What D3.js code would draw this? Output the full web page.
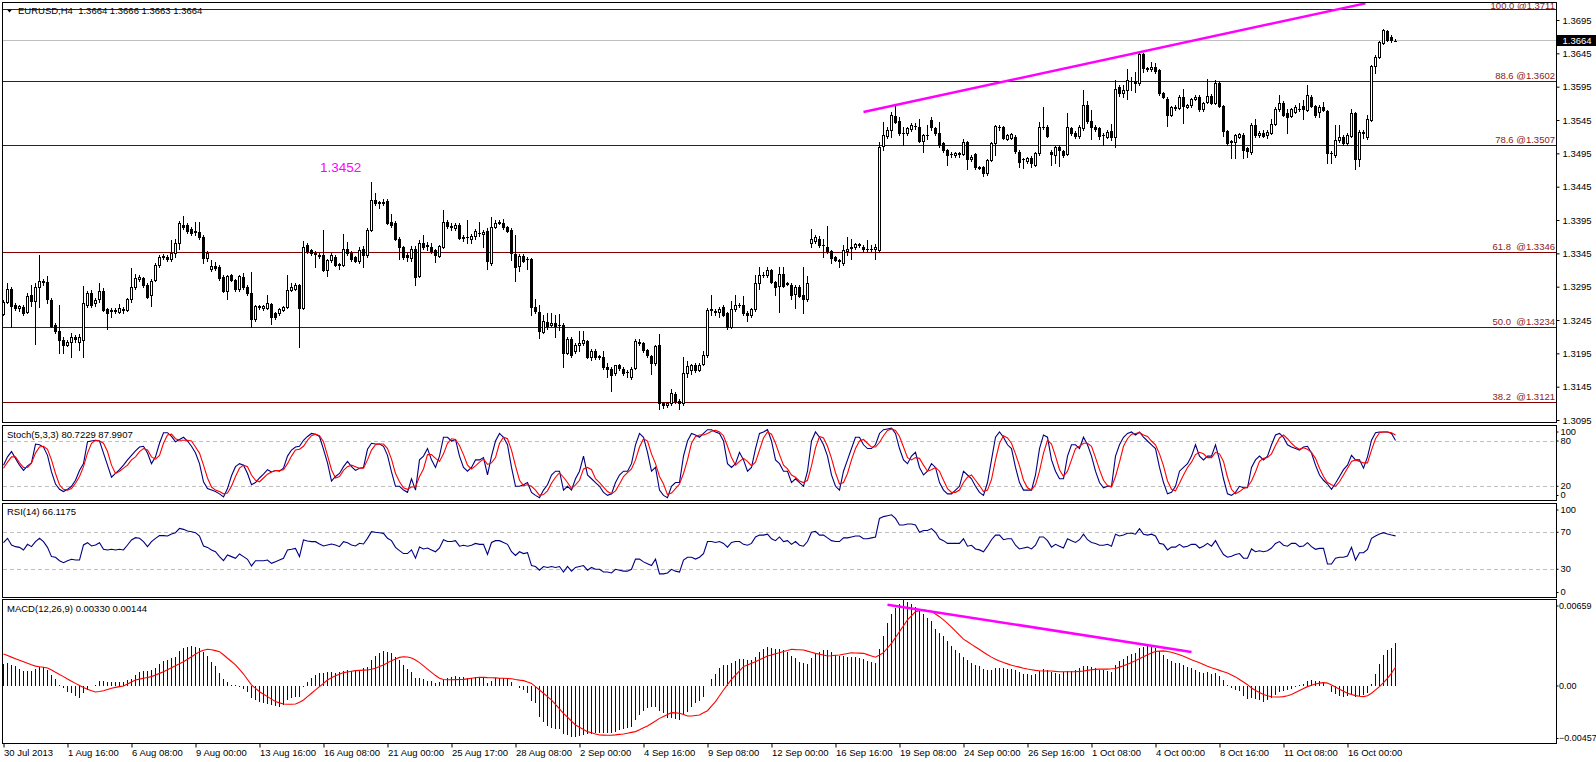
<!DOCTYPE html>
<html><head><meta charset="utf-8"><title>EURUSD H4</title>
<script src="https://cdn.jsdelivr.net/npm/d3@7/dist/d3.min.js"></script>
<style>
html,body{margin:0;padding:0;background:#fff;}
svg{display:block;}
text{font-family:"Liberation Sans",Arial,sans-serif;}
</style></head><body>
<svg id="chart" width="1596" height="762"></svg>
<script>
// ---------------- DATA ----------------
const timeLabels = ["30 Jul 2013","1 Aug 16:00","6 Aug 08:00","9 Aug 00:00","13 Aug 16:00","16 Aug 08:00","21 Aug 00:00","25 Aug 17:00","28 Aug 08:00","2 Sep 00:00","4 Sep 16:00","9 Sep 08:00","12 Sep 00:00","16 Sep 16:00","19 Sep 08:00","24 Sep 00:00","26 Sep 16:00","1 Oct 08:00","4 Oct 00:00","8 Oct 16:00","11 Oct 08:00","16 Oct 00:00"];
const labelBars = [0,16,32,48,64,80,96,112,128,144,160,176,192,208,224,240,256,272,288,304,320,336];
const priceTicks = [1.3695,1.3645,1.3595,1.3545,1.3495,1.3445,1.3395,1.3345,1.3295,1.3245,1.3195,1.3145,1.3095];
const fibPrices = [1.3711,1.3602,1.3507,1.3346,1.3234,1.3121];
const fibLabels = ["100.0 @1.3711","88.6 @1.3602","78.6 @1.3507","61.8  @1.3346","50.0  @1.3234","38.2  @1.3121"];
const lastPrice = 1.3664;
const headerText = "EURUSD,H4  1.3664 1.3666 1.3663 1.3664";
const stochLabel = "Stoch(5,3,3) 80.7229 87.9907";
const rsiLabel = "RSI(14) 66.1175";
const macdLabel = "MACD(12,26,9) 0.00330 0.00144";
const stochLevels = [80,20];
const rsiLevels = [70,30];
const stochTicks = [100,80,20,0];
const rsiTicks = [100,70,30,0];
const macdTicks = [0.00659,0,-0.00457];
const priceTrend = [{bar:215,price:1.3557},{bar:340.5,price:1.3720}];
const macdTrend = [{bar:221,value:0.00625},{bar:297,value:0.00262}];
const noteText = "1.3452", noteBar = 79.1, notePrice = 1.3467;

const open = [1.3254,1.3272,1.3291,1.3267,1.3263,1.3265,1.3257,1.3282,1.3274,1.3294,
1.3302,1.3302,1.3275,1.3237,1.3229,1.3215,1.3207,1.3212,1.3219,1.3212,
1.3215,1.3267,1.3286,1.3270,1.3276,1.3289,1.3261,1.3258,1.3258,1.3257,
1.3261,1.3260,1.3276,1.3294,1.3307,1.3308,1.3297,1.3282,1.3305,1.3327,
1.3339,1.3340,1.3337,1.3345,1.3360,1.3388,1.3387,1.3381,1.3377,1.3377,
1.3369,1.3338,1.3321,1.3326,1.3324,1.3310,1.3289,1.3312,1.3305,1.3291,
1.3310,1.3295,1.3286,1.3246,1.3266,1.3263,1.3263,1.3269,1.3255,1.3256,
1.3260,1.3265,1.3290,1.3292,1.3297,1.3263,1.3357,1.3350,1.3346,1.3343,
1.3342,1.3320,1.3335,1.3340,1.3329,1.3328,1.3352,1.3346,1.3339,1.3333,
1.3351,1.3342,1.3380,1.3425,1.3422,1.3421,1.3424,1.3392,1.3390,1.3367,
1.3354,1.3343,1.3338,1.3352,1.3311,1.3360,1.3356,1.3355,1.3350,1.3341,
1.3355,1.3392,1.3386,1.3383,1.3387,1.3368,1.3369,1.3367,1.3371,1.3376,
1.3374,1.3378,1.3330,1.3385,1.3391,1.3390,1.3384,1.3380,1.3344,1.3326,
1.3341,1.3336,1.3337,1.3264,1.3257,1.3227,1.3242,1.3237,1.3240,1.3237,
1.3238,1.3196,1.3217,1.3198,1.3207,1.3210,1.3214,1.3190,1.3199,1.3191,
1.3189,1.3175,1.3172,1.3165,1.3177,1.3172,1.3167,1.3159,1.3173,1.3212,
1.3210,1.3200,1.3191,1.3180,1.3207,1.3120,1.3118,1.3120,1.3134,1.3123,
1.3120,1.3166,1.3170,1.3177,1.3170,1.3179,1.3192,1.3261,1.3257,1.3257,
1.3264,1.3255,1.3235,1.3261,1.3267,1.3267,1.3256,1.3252,1.3261,1.3300,
1.3313,1.3312,1.3320,1.3302,1.3296,1.3314,1.3299,1.3298,1.3284,1.3295,
1.3282,1.3276,1.3360,1.3364,1.3367,1.3358,1.3355,1.3348,1.3339,1.3335,
1.3331,1.3349,1.3353,1.3354,1.3359,1.3355,1.3351,1.3352,1.3351,1.3350,
1.3506,1.3521,1.3530,1.3551,1.3543,1.3525,1.3525,1.3532,1.3536,1.3535,
1.3514,1.3522,1.3545,1.3533,1.3525,1.3510,1.3500,1.3494,1.3493,1.3496,
1.3494,1.3512,1.3486,1.3494,1.3474,1.3474,1.3465,1.3485,1.3510,1.3535,
1.3534,1.3517,1.3518,1.3520,1.3497,1.3486,1.3483,1.3488,1.3478,1.3495,
1.3535,1.3535,1.3497,1.3493,1.3505,1.3498,1.3494,1.3533,1.3526,1.3521,
1.3533,1.3568,1.3543,1.3535,1.3533,1.3522,1.3520,1.3528,1.3519,1.3595,
1.3586,1.3590,1.3604,1.3604,1.3600,1.3644,1.3623,1.3622,1.3624,1.3620,
1.3585,1.3577,1.3553,1.3563,1.3563,1.3579,1.3565,1.3567,1.3576,1.3579,
1.3561,1.3572,1.3581,1.3571,1.3601,1.3566,1.3528,1.3512,1.3512,1.3520,
1.3522,1.3503,1.3497,1.3537,1.3522,1.3526,1.3522,1.3526,1.3539,1.3561,
1.3571,1.3556,1.3551,1.3557,1.3562,1.3566,1.3560,1.3580,1.3566,1.3557,
1.3565,1.3558,1.3495,1.3493,1.3515,1.3520,1.3510,1.3521,1.3555,1.3487,
1.3525,1.3520,1.3545,1.3626,1.3640,1.3661,1.3678,1.3670,1.3664];

const high = [1.3275,1.3300,1.3295,1.3270,1.3268,1.3268,1.3285,1.3297,1.3300,1.3343,
1.3307,1.3311,1.3278,1.3240,1.3267,1.3220,1.3215,1.3225,1.3222,1.3224,
1.3296,1.3289,1.3290,1.3278,1.3300,1.3293,1.3263,1.3263,1.3263,1.3269,
1.3265,1.3278,1.3323,1.3314,1.3312,1.3310,1.3300,1.3306,1.3330,1.3342,
1.3344,1.3343,1.3365,1.3366,1.3394,1.3401,1.3390,1.3384,1.3392,1.3392,
1.3372,1.3349,1.3335,1.3332,1.3327,1.3312,1.3313,1.3314,1.3307,1.3313,
1.3316,1.3297,1.3317,1.3268,1.3268,1.3268,1.3282,1.3271,1.3257,1.3263,
1.3266,1.3312,1.3300,1.3300,1.3299,1.3363,1.3360,1.3352,1.3348,1.3346,
1.3380,1.3337,1.3346,1.3343,1.3331,1.3374,1.3362,1.3348,1.3341,1.3354,
1.3356,1.3383,1.3452,1.3435,1.3424,1.3426,1.3426,1.3404,1.3393,1.3370,
1.3356,1.3345,1.3356,1.3356,1.3365,1.3373,1.3362,1.3360,1.3352,1.3358,
1.3410,1.3395,1.3391,1.3390,1.3390,1.3373,1.3395,1.3374,1.3381,1.3392,
1.3380,1.3383,1.3400,1.3395,1.3395,1.3397,1.3386,1.3383,1.3372,1.3344,
1.3344,1.3340,1.3338,1.3276,1.3268,1.3253,1.3255,1.3255,1.3252,1.3254,
1.3241,1.3219,1.3220,1.3211,1.3228,1.3228,1.3215,1.3201,1.3201,1.3193,
1.3198,1.3180,1.3175,1.3178,1.3179,1.3175,1.3170,1.3175,1.3217,1.3217,
1.3212,1.3202,1.3193,1.3208,1.3224,1.3122,1.3122,1.3141,1.3137,1.3126,
1.3190,1.3184,1.3179,1.3180,1.3181,1.3198,1.3263,1.3282,1.3262,1.3265,
1.3268,1.3257,1.3274,1.3282,1.3270,1.3281,1.3258,1.3263,1.3312,1.3324,
1.3317,1.3324,1.3322,1.3304,1.3324,1.3324,1.3302,1.3300,1.3297,1.3297,
1.3324,1.3311,1.3382,1.3372,1.3371,1.3367,1.3386,1.3350,1.3341,1.3337,
1.3357,1.3369,1.3367,1.3361,1.3361,1.3357,1.3365,1.3357,1.3359,1.3512,
1.3542,1.3535,1.3557,1.3568,1.3550,1.3534,1.3534,1.3540,1.3541,1.3547,
1.3524,1.3537,1.3549,1.3535,1.3542,1.3512,1.3502,1.3497,1.3497,1.3497,
1.3517,1.3514,1.3492,1.3496,1.3476,1.3476,1.3487,1.3512,1.3537,1.3537,
1.3536,1.3524,1.3526,1.3522,1.3500,1.3488,1.3490,1.3491,1.3497,1.3542,
1.3565,1.3537,1.3500,1.3506,1.3507,1.3500,1.3555,1.3535,1.3528,1.3537,
1.3590,1.3573,1.3560,1.3538,1.3535,1.3525,1.3530,1.3539,1.3605,1.3597,
1.3597,1.3622,1.3610,1.3617,1.3647,1.3645,1.3625,1.3632,1.3630,1.3622,
1.3587,1.3580,1.3566,1.3567,1.3582,1.3591,1.3569,1.3578,1.3582,1.3582,
1.3572,1.3607,1.3584,1.3605,1.3604,1.3568,1.3530,1.3515,1.3524,1.3526,
1.3525,1.3505,1.3540,1.3547,1.3528,1.3530,1.3530,1.3547,1.3565,1.3582,
1.3573,1.3562,1.3563,1.3567,1.3570,1.3575,1.3597,1.3583,1.3568,1.3567,
1.3572,1.3560,1.3498,1.3537,1.3537,1.3522,1.3525,1.3562,1.3557,1.3530,
1.3530,1.3552,1.3628,1.3642,1.3664,1.3681,1.3680,1.3672,1.3666];

const low = [1.3252,1.3270,1.3235,1.3260,1.3258,1.3252,1.3255,1.3266,1.3209,1.3265,
1.3298,1.3270,1.3234,1.3225,1.3196,1.3196,1.3206,1.3190,1.3212,1.3200,
1.3189,1.3265,1.3265,1.3266,1.3272,1.3258,1.3232,1.3249,1.3255,1.3255,
1.3256,1.3258,1.3272,1.3292,1.3303,1.3294,1.3278,1.3266,1.3303,1.3325,
1.3337,1.3334,1.3333,1.3340,1.3352,1.3382,1.3376,1.3372,1.3373,1.3367,
1.3331,1.3334,1.3318,1.3320,1.3305,1.3287,1.3277,1.3303,1.3289,1.3289,
1.3292,1.3283,1.3235,1.3244,1.3262,1.3260,1.3261,1.3239,1.3246,1.3252,
1.3258,1.3263,1.3288,1.3290,1.3205,1.3261,1.3346,1.3342,1.3324,1.3338,
1.3318,1.3311,1.3332,1.3326,1.3322,1.3326,1.3343,1.3334,1.3332,1.3330,
1.3325,1.3340,1.3378,1.3418,1.3413,1.3418,1.3389,1.3385,1.3365,1.3337,
1.3337,1.3333,1.3334,1.3297,1.3309,1.3351,1.3350,1.3346,1.3332,1.3339,
1.3353,1.3383,1.3380,1.3380,1.3366,1.3364,1.3360,1.3361,1.3366,1.3371,
1.3355,1.3322,1.3328,1.3383,1.3389,1.3382,1.3377,1.3335,1.3304,1.3319,
1.3332,1.3322,1.3252,1.3255,1.3218,1.3225,1.3232,1.3236,1.3220,1.3230,
1.3174,1.3194,1.3190,1.3195,1.3198,1.3208,1.3188,1.3185,1.3187,1.3186,
1.3172,1.3160,1.3138,1.3162,1.3170,1.3163,1.3160,1.3157,1.3171,1.3207,
1.3197,1.3190,1.3164,1.3177,1.3112,1.3113,1.3115,1.3117,1.3120,1.3111,
1.3118,1.3160,1.3164,1.3167,1.3168,1.3177,1.3190,1.3252,1.3252,1.3250,
1.3251,1.3231,1.3233,1.3259,1.3265,1.3253,1.3243,1.3249,1.3259,1.3291,
1.3310,1.3310,1.3300,1.3282,1.3257,1.3294,1.3297,1.3276,1.3263,1.3279,
1.3255,1.3274,1.3355,1.3360,1.3355,1.3340,1.3345,1.3330,1.3333,1.3325,
1.3327,1.3342,1.3337,1.3351,1.3355,1.3349,1.3349,1.3348,1.3337,1.3347,
1.3500,1.3518,1.3520,1.3540,1.3522,1.3507,1.3522,1.3529,1.3531,1.3512,
1.3497,1.3517,1.3530,1.3522,1.3505,1.3497,1.3477,1.3490,1.3490,1.3489,
1.3492,1.3472,1.3484,1.3472,1.3471,1.3461,1.3463,1.3483,1.3492,1.3530,
1.3516,1.3515,1.3516,1.3495,1.3475,1.3473,1.3480,1.3475,1.3476,1.3493,
1.3532,1.3519,1.3477,1.3480,1.3476,1.3490,1.3492,1.3523,1.3518,1.3518,
1.3530,1.3540,1.3516,1.3528,1.3516,1.3507,1.3518,1.3515,1.3505,1.3581,
1.3580,1.3577,1.3590,1.3587,1.3598,1.3617,1.3618,1.3619,1.3616,1.3583,
1.3578,1.3536,1.3551,1.3560,1.3561,1.3541,1.3563,1.3564,1.3575,1.3559,
1.3558,1.3570,1.3569,1.3569,1.3564,1.3521,1.3508,1.3488,1.3488,1.3518,
1.3488,1.3489,1.3494,1.3519,1.3519,1.3519,1.3518,1.3524,1.3537,1.3559,
1.3551,1.3525,1.3549,1.3555,1.3558,1.3546,1.3558,1.3564,1.3550,1.3550,
1.3558,1.3480,1.3481,1.3490,1.3512,1.3508,1.3508,1.3519,1.3472,1.3476,
1.3518,1.3517,1.3543,1.3616,1.3638,1.3659,1.3663,1.3662,1.3663];

const close = [1.3272,1.3291,1.3266,1.3263,1.3266,1.3255,1.3281,1.3273,1.3294,1.3303,
1.3303,1.3276,1.3236,1.3228,1.3215,1.3207,1.3212,1.3219,1.3216,1.3219,
1.3270,1.3286,1.3268,1.3275,1.3288,1.3260,1.3256,1.3260,1.3260,1.3263,
1.3260,1.3276,1.3295,1.3308,1.3309,1.3297,1.3280,1.3304,1.3327,1.3339,
1.3341,1.3337,1.3345,1.3360,1.3390,1.3385,1.3379,1.3376,1.3379,1.3370,
1.3338,1.3346,1.3326,1.3323,1.3308,1.3289,1.3311,1.3305,1.3291,1.3311,
1.3294,1.3285,1.3246,1.3266,1.3265,1.3266,1.3270,1.3250,1.3249,1.3261,
1.3264,1.3290,1.3294,1.3297,1.3263,1.3354,1.3349,1.3345,1.3344,1.3341,
1.3320,1.3335,1.3342,1.3328,1.3328,1.3352,1.3345,1.3336,1.3334,1.3350,
1.3342,1.3380,1.3425,1.3421,1.3420,1.3422,1.3391,1.3388,1.3367,1.3354,
1.3340,1.3339,1.3352,1.3310,1.3361,1.3354,1.3358,1.3349,1.3343,1.3356,
1.3392,1.3386,1.3385,1.3388,1.3368,1.3370,1.3369,1.3371,1.3378,1.3375,
1.3377,1.3333,1.3385,1.3390,1.3392,1.3384,1.3379,1.3345,1.3325,1.3341,
1.3334,1.3336,1.3264,1.3258,1.3228,1.3243,1.3236,1.3240,1.3236,1.3237,
1.3195,1.3217,1.3193,1.3208,1.3211,1.3215,1.3190,1.3199,1.3190,1.3190,
1.3174,1.3172,1.3163,1.3177,1.3173,1.3166,1.3167,1.3172,1.3213,1.3211,
1.3200,1.3192,1.3180,1.3206,1.3120,1.3117,1.3120,1.3135,1.3123,1.3120,
1.3166,1.3176,1.3177,1.3170,1.3178,1.3192,1.3260,1.3260,1.3258,1.3262,
1.3253,1.3235,1.3261,1.3267,1.3268,1.3255,1.3252,1.3261,1.3300,1.3313,
1.3313,1.3320,1.3302,1.3295,1.3314,1.3296,1.3300,1.3283,1.3295,1.3281,
1.3276,1.3301,1.3366,1.3369,1.3357,1.3357,1.3348,1.3338,1.3335,1.3334,
1.3350,1.3352,1.3355,1.3359,1.3358,1.3351,1.3351,1.3352,1.3355,1.3505,
1.3523,1.3530,1.3552,1.3542,1.3525,1.3526,1.3533,1.3537,1.3536,1.3514,
1.3522,1.3522,1.3535,1.3525,1.3507,1.3500,1.3492,1.3494,1.3495,1.3494,
1.3512,1.3486,1.3490,1.3475,1.3473,1.3465,1.3485,1.3510,1.3536,1.3535,
1.3518,1.3522,1.3524,1.3498,1.3482,1.3486,1.3488,1.3481,1.3495,1.3535,
1.3535,1.3521,1.3494,1.3504,1.3500,1.3492,1.3535,1.3526,1.3521,1.3535,
1.3567,1.3543,1.3534,1.3531,1.3521,1.3522,1.3527,1.3519,1.3592,1.3585,
1.3590,1.3605,1.3604,1.3601,1.3644,1.3623,1.3621,1.3624,1.3619,1.3585,
1.3580,1.3552,1.3564,1.3564,1.3579,1.3566,1.3567,1.3576,1.3579,1.3561,
1.3570,1.3581,1.3571,1.3601,1.3566,1.3528,1.3510,1.3513,1.3522,1.3524,
1.3500,1.3499,1.3537,1.3522,1.3525,1.3521,1.3527,1.3539,1.3562,1.3571,
1.3553,1.3550,1.3561,1.3564,1.3562,1.3561,1.3582,1.3566,1.3552,1.3564,
1.3560,1.3495,1.3496,1.3515,1.3520,1.3511,1.3522,1.3555,1.3487,1.3527,
1.3527,1.3546,1.3626,1.3640,1.3662,1.3680,1.3665,1.3665,1.3664];

const stochMain = [48,59,66,57,48,41,47,51,76,75,
72,61,39,23,16,13,16,20,28,41,
50,79,80,81,80,64,48,32,37,42,
48,55,61,67,72,73,64,50,59,77,
91,91,86,79,82,85,80,73,64,50,
26,17,15,13,10,6,17,34,46,50,
48,37,22,25,31,36,42,39,41,40,
44,60,68,72,73,81,86,90,89,86,
69,51,27,33,37,46,53,46,41,44,
45,69,77,76,76,73,61,39,20,20,
15,12,30,15,55,60,70,55,45,60,
85,85,80,82,60,45,40,45,55,55,
58,35,60,80,90,85,75,45,20,20,
22,25,12,8,5,15,22,35,40,40,
15,20,15,30,40,60,35,30,25,20,
12,8,10,25,35,40,40,50,75,90,
85,65,40,45,15,8,5,20,25,25,
60,80,90,88,85,90,95,95,92,90,
80,50,45,50,65,55,40,45,70,90,
92,95,80,55,50,40,40,25,30,25,
20,40,80,92,85,75,60,35,20,15,
40,55,70,85,85,75,70,70,75,90,
95,96,97,90,70,55,50,60,65,45,
35,40,50,45,25,15,10,10,15,20,
40,35,30,20,12,8,25,55,85,92,
85,75,70,45,25,15,15,15,35,70,
88,85,55,40,30,30,60,75,75,70,
85,75,60,40,25,18,20,20,60,75,
85,90,92,88,92,85,80,75,70,45,
25,10,12,20,40,45,50,60,75,60,
55,60,60,75,55,30,10,8,12,20,
18,18,45,55,60,55,60,75,88,90,
85,75,72,70,68,72,73,64,48,35,
28,23,16,24,33,42,48,61,55,55,
44,59,81,91,92,92,92,90,80.72];

const stochSignal = [44,52,59,59,51,45,45,51,64,72,
73,69,55,37,22,16,15,17,24,33,
46,64,77,81,80,77,66,48,37,40,
44,48,55,59,66,70,68,59,56,61,
77,88,89,83,81,81,81,80,72,64,
48,31,19,15,13,10,11,20,33,44,
48,46,35,28,26,31,36,39,41,41,
42,50,60,68,69,73,81,87,89,87,
79,61,42,31,33,41,46,48,46,44,
44,55,68,75,76,76,70,56,37,26,
18,16,19,19,33,43,62,62,57,53,
63,77,83,82,74,62,48,43,47,52,
56,49,51,58,77,85,83,68,47,28,
21,22,20,15,8,9,14,24,32,38,
32,25,17,22,28,43,45,42,30,25,
19,13,10,14,23,33,38,43,55,72,
83,80,63,50,33,23,9,11,17,23,
37,55,77,86,88,88,90,93,94,92,
87,73,58,48,53,57,53,47,52,68,
84,92,89,77,62,48,43,35,32,27,
25,28,47,71,86,84,73,57,38,23,
25,37,55,70,80,82,77,72,72,78,
87,94,96,94,86,72,58,55,58,57,
48,40,42,45,40,28,17,12,12,15,
25,32,35,28,21,13,15,29,55,77,
87,84,77,63,47,28,18,15,22,40,
64,81,76,60,42,33,40,55,70,73,
77,77,73,58,42,28,21,19,33,52,
73,83,89,90,91,88,86,80,75,63,
47,27,16,14,24,35,45,52,62,65,
63,58,58,65,63,53,32,16,10,13,
17,19,27,39,53,57,58,63,74,84,
88,83,77,72,69,71,69,65,57,44,
33,25,22,20,26,35,44,53,55,53,
51,51,68,83,91,92,92,91,87.99];

const rsi = [58.8,63.5,56.3,54.5,53.7,50.9,57,54.5,59.9,63.5,
59.9,53.7,43.7,43,39.3,37.2,39.3,40.8,40,40,
56.3,58.8,55.2,56.3,58.8,51.6,50.9,51.6,50.9,51.6,
50.9,56.3,61.7,64.2,63.5,59.9,54.5,59.9,63.5,66.4,
66.4,66,68.2,69.6,74.3,73.2,71.4,70.7,69.6,66,
55.2,53.7,50.9,49.1,43.7,39.3,45.5,43.7,41.9,46.6,
43.7,40.8,33.6,39.3,39.3,39.3,40,36.4,38.2,40,
41.9,50.9,51.6,52.6,43.7,61.7,60.6,59.9,59.9,57.4,
55.2,56.3,57.4,56.3,54.5,59.9,58.8,56.3,55.2,58.1,
57.4,63.5,70.7,70,69.6,68.9,63.5,61,53.7,50.2,
47,47,51,42,54,52,53,51,49,53,
62,60,60,61,55,56,55,56,58,57,
57,46,59,61,61,59,57,49,45,49,
47,48,34,33,29,33,32,33,32,33,
27,33,28,32,33,34,29,32,30,30,
27,27,26,30,29,28,28,30,41,41,
38,36,34,41,25,25,26,30,28,27,
40,43,43,41,43,47,60,60,59,60,
58,54,59,60,60,57,56,58,65,67,
67,68,63,61,65,60,61,57,60,56,
55,60,70,71,67,67,64,61,60,60,
64,64,65,66,66,63,63,64,65,85,
87,88,89,85,78,78,79,79,78,70,
72,72,74,70,63,61,58,58,58,58,
63,55,56,52,51,49,55,62,67,67,
62,63,63,56,52,53,54,52,56,65,
65,61,54,57,55,53,63,61,59,62,
68,62,59,58,56,56,57,55,68,66,
67,69,69,68,74,68,67,68,66,58,
57,51,54,54,57,54,55,57,57,53,
55,58,55,61,53,46,43,44,46,47,
42,42,52,49,50,49,50,53,58,60,
56,55,58,58,54.5,55.2,58.8,54.5,51.6,52.6,
52.6,35.7,35.7,41.9,43,43,44.4,53.7,40,47.9,
47.9,51.6,63.5,66,68.2,69.6,68.2,67.1,66.12];

const macdHist = [0.00169,0.00180,0.00160,0.00150,0.00130,0.00118,0.00118,0.00118,0.00128,0.00144,
0.00144,0.00123,0.00082,0.00051,0.00008,-0.00018,-0.00044,-0.00056,-0.00077,-0.00095,
-0.00056,-0.00030,0.00000,0.00005,0.00038,0.00038,0.00030,0.00030,0.00030,0.00030,
0.00030,0.00046,0.00054,0.00085,0.00108,0.00115,0.00115,0.00123,0.00136,0.00169,
0.00195,0.00200,0.00213,0.00226,0.00269,0.00290,0.00303,0.00308,0.00303,0.00295,
0.00264,0.00230,0.00187,0.00154,0.00097,0.00056,0.00030,0.00008,0.00005,-0.00010,
-0.00026,-0.00044,-0.00095,-0.00108,-0.00120,-0.00133,-0.00138,-0.00146,-0.00154,-0.00159,
-0.00146,-0.00108,-0.00095,-0.00082,-0.00082,-0.00010,0.00033,0.00064,0.00085,0.00103,
0.00103,0.00108,0.00108,0.00103,0.00108,0.00118,0.00123,0.00118,0.00115,0.00123,
0.00136,0.00149,0.00200,0.00230,0.00256,0.00272,0.00264,0.00251,0.00220,0.00200,
0.00160,0.00130,0.00105,0.00065,0.00060,0.00050,0.00040,0.00035,0.00025,0.00030,
0.00046,0.00059,0.00072,0.00077,0.00072,0.00067,0.00059,0.00059,0.00067,0.00064,
0.00064,0.00026,0.00041,0.00059,0.00059,0.00059,0.00059,0.00033,0.00003,-0.00018,
-0.00031,-0.00051,-0.00113,-0.00133,-0.00236,-0.00274,-0.00308,-0.00326,-0.00333,-0.00333,
-0.00369,-0.00377,-0.00390,-0.00390,-0.00385,-0.00377,-0.00369,-0.00369,-0.00364,-0.00364,
-0.00364,-0.00359,-0.00359,-0.00351,-0.00338,-0.00333,-0.00326,-0.00313,-0.00262,-0.00223,
-0.00190,-0.00172,-0.00164,-0.00164,-0.00190,-0.00210,-0.00244,-0.00244,-0.00256,-0.00262,
-0.00223,-0.00197,-0.00159,-0.00133,-0.00113,-0.00082,0.00003,0.00051,0.00092,0.00136,
0.00162,0.00162,0.00174,0.00195,0.00208,0.00208,0.00200,0.00200,0.00226,0.00264,
0.00282,0.00297,0.00290,0.00282,0.00282,0.00277,0.00264,0.00231,0.00213,0.00187,
0.00174,0.00169,0.00218,0.00256,0.00264,0.00277,0.00277,0.00259,0.00238,0.00231,
0.00231,0.00226,0.00226,0.00221,0.00213,0.00205,0.00195,0.00187,0.00179,0.00282,
0.00385,0.00487,0.00550,0.00600,0.00630,0.00659,0.00645,0.00630,0.00610,0.00580,
0.00550,0.00525,0.00500,0.00440,0.00405,0.00385,0.00345,0.00310,0.00280,0.00250,
0.00220,0.00200,0.00180,0.00160,0.00150,0.00130,0.00120,0.00125,0.00135,0.00140,
0.00135,0.00130,0.00130,0.00120,0.00105,0.00095,0.00090,0.00085,0.00095,0.00115,
0.00130,0.00125,0.00110,0.00100,0.00090,0.00105,0.00115,0.00115,0.00120,0.00140,
0.00150,0.00150,0.00145,0.00135,0.00125,0.00120,0.00115,0.00110,0.00160,0.00190,
0.00210,0.00230,0.00245,0.00250,0.00290,0.00300,0.00305,0.00300,0.00290,0.00270,
0.00240,0.00210,0.00195,0.00180,0.00175,0.00160,0.00145,0.00135,0.00125,0.00110,
0.00100,0.00105,0.00095,0.00100,0.00080,0.00045,0.00010,-0.00015,-0.00030,-0.00040,
-0.00080,-0.00100,-0.00090,-0.00100,-0.00110,-0.00120,-0.00110,-0.00090,-0.00070,-0.00050,
-0.00040,-0.00030,-0.00020,-0.00010,0.00005,0.00015,0.00038,0.00046,0.00041,0.00038,
0.00033,0.00000,-0.00044,-0.00062,-0.00077,-0.00082,-0.00077,-0.00069,-0.00087,-0.00077,
-0.00069,-0.00056,0.00015,0.00092,0.00169,0.00238,0.00277,0.00290,0.00330];

const macdSignal = [0.00246,0.00235,0.00222,0.00210,0.00198,0.00186,0.00174,0.00163,0.00153,0.00148,
0.00144,0.00138,0.00123,0.00105,0.00088,0.00072,0.00053,0.00036,0.00020,0.00004,
-0.00012,-0.00025,-0.00036,-0.00046,-0.00043,-0.00036,-0.00027,-0.00018,-0.00011,-0.00005,
0.00000,0.00015,0.00030,0.00046,0.00053,0.00059,0.00065,0.00072,0.00084,0.00097,
0.00110,0.00125,0.00141,0.00156,0.00171,0.00187,0.00206,0.00225,0.00244,0.00264,
0.00275,0.00282,0.00279,0.00272,0.00264,0.00240,0.00213,0.00188,0.00162,0.00127,
0.00092,0.00050,0.00008,-0.00018,-0.00044,-0.00063,-0.00082,-0.00101,-0.00120,-0.00130,
-0.00138,-0.00140,-0.00140,-0.00138,-0.00125,-0.00108,-0.00082,-0.00056,-0.00030,-0.00005,
0.00020,0.00046,0.00063,0.00079,0.00091,0.00103,0.00108,0.00113,0.00118,0.00120,
0.00122,0.00123,0.00129,0.00136,0.00149,0.00162,0.00178,0.00195,0.00208,0.00220,
0.00225,0.00223,0.00215,0.00200,0.00180,0.00155,0.00130,0.00105,0.00080,0.00060,
0.00050,0.00048,0.00048,0.00049,0.00050,0.00051,0.00055,0.00059,0.00063,0.00067,
0.00066,0.00064,0.00063,0.00062,0.00060,0.00059,0.00057,0.00056,0.00050,0.00045,
0.00041,0.00030,0.00020,-0.00005,-0.00031,-0.00056,-0.00082,-0.00108,-0.00142,-0.00176,
-0.00210,-0.00240,-0.00270,-0.00300,-0.00317,-0.00334,-0.00351,-0.00360,-0.00369,-0.00377,
-0.00378,-0.00379,-0.00379,-0.00376,-0.00372,-0.00369,-0.00363,-0.00357,-0.00351,-0.00337,
-0.00322,-0.00308,-0.00288,-0.00269,-0.00249,-0.00234,-0.00219,-0.00205,-0.00207,-0.00210,
-0.00220,-0.00231,-0.00231,-0.00227,-0.00223,-0.00206,-0.00190,-0.00155,-0.00120,-0.00075,
-0.00031,0.00010,0.00051,0.00084,0.00116,0.00149,0.00162,0.00174,0.00187,0.00202,
0.00216,0.00231,0.00239,0.00248,0.00256,0.00265,0.00273,0.00282,0.00280,0.00279,
0.00277,0.00268,0.00260,0.00251,0.00244,0.00238,0.00231,0.00233,0.00236,0.00238,
0.00244,0.00250,0.00256,0.00254,0.00253,0.00251,0.00241,0.00231,0.00221,0.00238,
0.00256,0.00292,0.00328,0.00373,0.00418,0.00463,0.00508,0.00540,0.00572,0.00579,
0.00585,0.00579,0.00572,0.00553,0.00533,0.00508,0.00482,0.00452,0.00422,0.00392,
0.00360,0.00340,0.00320,0.00300,0.00280,0.00260,0.00240,0.00222,0.00205,0.00192,
0.00180,0.00170,0.00160,0.00152,0.00145,0.00137,0.00130,0.00125,0.00120,0.00117,
0.00115,0.00115,0.00115,0.00112,0.00110,0.00110,0.00110,0.00110,0.00110,0.00112,
0.00115,0.00120,0.00125,0.00128,0.00130,0.00130,0.00130,0.00132,0.00135,0.00145,
0.00155,0.00168,0.00180,0.00195,0.00210,0.00225,0.00240,0.00253,0.00265,0.00268,
0.00270,0.00265,0.00260,0.00250,0.00240,0.00228,0.00215,0.00202,0.00190,0.00178,
0.00165,0.00152,0.00140,0.00130,0.00120,0.00110,0.00100,0.00085,0.00070,0.00050,
0.00030,0.00010,-0.00015,-0.00035,-0.00050,-0.00065,-0.00075,-0.00083,-0.00085,-0.00085,
-0.00082,-0.00075,-0.00065,-0.00050,-0.00035,-0.00020,-0.00005,0.00005,0.00015,0.00022,
0.00026,0.00022,0.00008,-0.00008,-0.00026,-0.00040,-0.00056,-0.00065,-0.00074,-0.00079,
-0.00082,-0.00075,-0.00056,-0.00030,-0.00005,0.00025,0.00059,0.00098,0.00144];

// ---------------- LAYOUT ----------------
const FONT = "'Liberation Sans', Arial, sans-serif";
const FS = 9.5;
const X0 = 2.5, X1 = 1556.5;
const P = {main:[2.5,422.5], stoch:[425.5,500.5], rsi:[503.5,597.5], macd:[599.5,743.5]};
const n = Math.min(open.length, high.length, low.length, close.length);
const svg = d3.select("#chart");
svg.append("rect").attr("width",1596).attr("height",762).attr("fill","#fff");

const x = d3.scaleLinear().domain([0, 388.25]).range([3.5, 1556.5]);
const yMain = d3.scaleLinear().domain([1.3092, 1.3722]).range([422, 2]);
const yStoch = d3.scaleLinear().domain([0, 100]).range([501.4, 425.9]);
const yRsi = d3.scaleLinear().domain([0, 100]).range([597, 504.6]);
const yMacd = d3.scaleLinear().domain([-0.00457, 0.00659]).range([745.4, 600.3]);
const snap = v => Math.round(v - 0.5) + 0.5;

const defs = svg.append("defs");
Object.entries(P).forEach(([k,[t,b]]) => {
  defs.append("clipPath").attr("id","clip-"+k).append("rect")
    .attr("x",X0+0.5).attr("y",t+0.5).attr("width",X1-X0-1).attr("height",b-t-1);
});

// ---- main panel ----
const gMain = svg.append("g").attr("clip-path","url(#clip-main)");
gMain.selectAll("line.fib").data(fibPrices).join("line").attr("class","fib")
  .attr("x1",X0).attr("x2",X1)
  .attr("y1",d=>snap(yMain(d))).attr("y2",d=>snap(yMain(d)))
  .attr("stroke","#800000").attr("stroke-width",1).attr("shape-rendering","crispEdges");
gMain.append("line").attr("x1",X0).attr("x2",X1)
  .attr("y1",snap(yMain(lastPrice))).attr("y2",snap(yMain(lastPrice)))
  .attr("stroke","#c0c0c0").attr("shape-rendering","crispEdges");

const candles = gMain.append("g").attr("shape-rendering","crispEdges");
d3.range(n).forEach(i => {
  const cx = snap(x(i));
  const yh = Math.round(yMain(high[i])), yl = Math.round(yMain(low[i]));
  candles.append("line").attr("x1",cx).attr("x2",cx).attr("y1",yh).attr("y2",yl+1).attr("stroke","#000");
  const yt = Math.round(yMain(Math.max(open[i],close[i])));
  const yb = Math.round(yMain(Math.min(open[i],close[i])));
  if (yb - yt < 1) {
    candles.append("line").attr("x1",cx-1.5).attr("x2",cx+1.5).attr("y1",yt+0.5).attr("y2",yt+0.5).attr("stroke","#000");
  } else {
    candles.append("rect").attr("x",cx-1).attr("y",yt+0.5).attr("width",2).attr("height",yb-yt)
      .attr("fill", close[i] >= open[i] ? "#fff" : "#000").attr("stroke","#000");
  }
});

gMain.append("line")
  .attr("x1",x(priceTrend[0].bar)).attr("y1",yMain(priceTrend[0].price))
  .attr("x2",x(priceTrend[1].bar)).attr("y2",yMain(priceTrend[1].price))
  .attr("stroke","#ff00ff").attr("stroke-width",2.4);

svg.append("text").attr("x",x(noteBar)).attr("y",yMain(notePrice))
  .attr("fill","#ff00ff").attr("font-size",13.5).attr("font-family",FONT).text(noteText);

svg.selectAll("text.fibl").data(fibPrices).join("text").attr("class","fibl")
  .attr("x",1555).attr("y",d=>Math.max(9.2, snap(yMain(d))-2.5)).attr("text-anchor","end")
  .attr("fill","#8b1a1a").attr("font-size",FS).attr("font-family",FONT)
  .style("white-space","pre").text((d,i)=>fibLabels[i]);

// header
svg.append("path").attr("d","M7,9.5 L12,9.5 L9.5,12.5 Z").attr("fill","#000");
svg.append("text").attr("x",18).attr("y",13.5).attr("font-size",FS).attr("font-family",FONT)
  .style("white-space","pre").text(headerText);

// price axis
const axR = d3.axisRight(yMain).tickValues(priceTicks).tickFormat(d3.format(".4f")).tickSize(3).tickPadding(3);
const gAx = svg.append("g").attr("transform",`translate(${X1},0)`).call(axR)
  .attr("font-family",FONT).attr("font-size",FS);
gAx.select(".domain").remove();
gAx.selectAll("text").attr("fill","#000");
const ly = snap(yMain(lastPrice));
svg.append("rect").attr("x",1557).attr("y",ly-5.5).attr("width",39).attr("height",11).attr("fill","#000");
svg.append("text").attr("x",1562.5).attr("y",ly+3.5).attr("fill","#fff").attr("font-size",FS)
  .attr("font-family",FONT).text(d3.format(".4f")(lastPrice));

// ---- stochastic ----
const gSt = svg.append("g").attr("clip-path","url(#clip-stoch)");
gSt.selectAll("line").data(stochLevels).join("line")
  .attr("x1",X0).attr("x2",X1).attr("y1",d=>snap(yStoch(d))).attr("y2",d=>snap(yStoch(d)))
  .attr("stroke","#c0c0c0").attr("stroke-dasharray","4,3").attr("shape-rendering","crispEdges");
const lineSt = d3.line().x((d,i)=>x(i)).y(d=>yStoch(d));
gSt.append("path").attr("d",lineSt(stochMain)).attr("fill","none").attr("stroke","#000080").attr("stroke-width",1.1);
gSt.append("path").attr("d",lineSt(stochSignal)).attr("fill","none").attr("stroke","#ff0000").attr("stroke-width",1.1);
svg.append("text").attr("x",7).attr("y",437.5).attr("font-size",FS).attr("font-family",FONT).text(stochLabel);

// ---- RSI ----
const gR = svg.append("g").attr("clip-path","url(#clip-rsi)");
gR.selectAll("line").data(rsiLevels).join("line")
  .attr("x1",X0).attr("x2",X1).attr("y1",d=>snap(yRsi(d))).attr("y2",d=>snap(yRsi(d)))
  .attr("stroke","#c0c0c0").attr("stroke-dasharray","4,3").attr("shape-rendering","crispEdges");
gR.append("path").attr("d",d3.line().x((d,i)=>x(i)).y(d=>yRsi(d))(rsi))
  .attr("fill","none").attr("stroke","#000080").attr("stroke-width",1.1);
svg.append("text").attr("x",7).attr("y",515).attr("font-size",FS).attr("font-family",FONT).text(rsiLabel);

// ---- MACD ----
const gM = svg.append("g").attr("clip-path","url(#clip-macd)");
gM.append("g").attr("shape-rendering","crispEdges").selectAll("line").data(macdHist).join("line")
  .attr("x1",(d,i)=>snap(x(i))).attr("x2",(d,i)=>snap(x(i)))
  .attr("y1",Math.round(yMacd(0))).attr("y2",d=>Math.round(yMacd(d)))
  .attr("stroke","#000080").attr("stroke-width",1);
gM.append("path").attr("d",d3.line().x((d,i)=>x(i)).y(d=>yMacd(d))(macdSignal))
  .attr("fill","none").attr("stroke","#ff0000").attr("stroke-width",1.1);
gM.append("line")
  .attr("x1",x(macdTrend[0].bar)).attr("y1",yMacd(macdTrend[0].value))
  .attr("x2",x(macdTrend[1].bar)).attr("y2",yMacd(macdTrend[1].value))
  .attr("stroke","#ff00ff").attr("stroke-width",2.6);
svg.append("text").attr("x",7).attr("y",611.5).attr("font-size",FS).attr("font-family",FONT).text(macdLabel);

// indicator axes
function indAxis(scale, values, fmt, top, bottom, pad, fs) {
  const ax = d3.axisRight(scale).tickValues(values).tickFormat(fmt).tickSize(2).tickPadding(pad);
  const g = svg.append("g").attr("transform",`translate(${X1},0)`).call(ax)
    .attr("font-family",FONT).attr("font-size",fs);
  g.select(".domain").remove();
  g.selectAll("text").attr("fill","#000");
  g.selectAll(".tick").attr("transform", d => `translate(0,${Math.max(top+6.5, Math.min(bottom-5, scale(d)))})`);
}
indAxis(yStoch, stochTicks, d=>String(d), P.stoch[0], P.stoch[1], 2, 9.3);
indAxis(yRsi, rsiTicks, d=>String(d), P.rsi[0], P.rsi[1], 2, 9.3);
indAxis(yMacd, macdTicks, d=> d===0 ? "0.00" : d3.format(".5f")(d), P.macd[0], P.macd[1], 0.5, 9);

// time axis
const axB = d3.axisBottom(x).tickValues(labelBars).tickFormat((d,i)=>timeLabels[i]).tickSize(4);
const gB = svg.append("g").attr("transform",`translate(0,${P.macd[1]})`).call(axB)
  .attr("font-family",FONT).attr("font-size",FS);
gB.select(".domain").remove();
gB.selectAll("text").attr("text-anchor","start").attr("x",0).attr("y",6).attr("fill","#000");

// frames
Object.values(P).forEach(([t,b]) => {
  svg.append("rect").attr("x",X0).attr("y",t).attr("width",X1-X0).attr("height",b-t)
    .attr("fill","none").attr("stroke","#000").attr("shape-rendering","crispEdges");
});
</script></body></html>
